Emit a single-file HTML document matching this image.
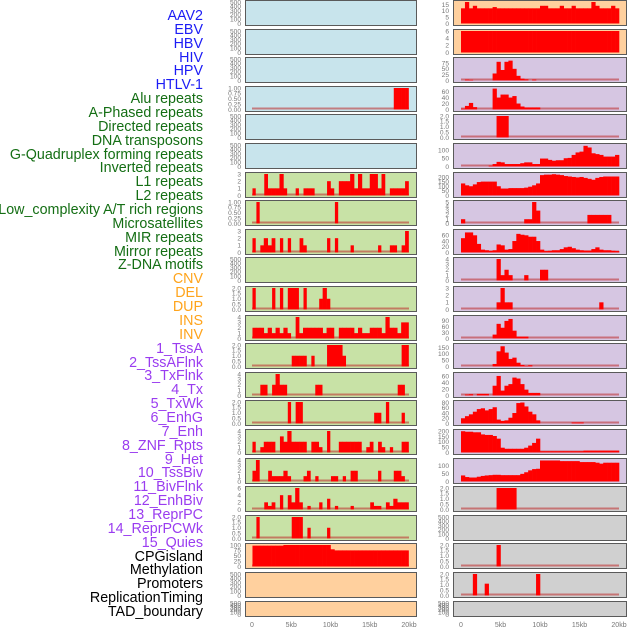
<!DOCTYPE html>
<html><head><meta charset="utf-8">
<style>
html,body{margin:0;padding:0;background:#fff;width:630px;height:630px;overflow:hidden;position:relative;font-family:"Liberation Sans",sans-serif;}
.lbl{position:absolute;right:427px;font-size:14.3px;line-height:14px;white-space:nowrap;text-align:right;}
svg{position:absolute;left:0;top:0;}
</style></head>
<body>
<div id="labels"></div>
<svg id="chart" width="630" height="630"></svg>
<script>
const trackNames = ["AAV2","EBV","HBV","HIV","HPV","HTLV-1","Alu repeats","A-Phased repeats","Directed repeats","DNA transposons","G-Quadruplex forming repeats","Inverted repeats","L1 repeats","L2 repeats","Low_complexity A/T rich regions","Microsatellites","MIR repeats","Mirror repeats","Z-DNA motifs","CNV","DEL","DUP","INS","INV","1_TssA","2_TssAFlnk","3_TxFlnk","4_Tx","5_TxWk","6_EnhG","7_Enh","8_ZNF_Rpts","9_Het","10_TssBiv","11_BivFlnk","12_EnhBiv","13_ReprPC","14_ReprPCWk","15_Quies","CPGisland","Methylation","Promoters","ReplicationTiming","TAD_boundary"];
const trackGroups = [6,13,5,15,5];
const groupColors = ["#1c1cf5","#146e14","#ffa41c","#9a3cf0","#000000"];

const xTicks = [0,5,10,15,20];
const xTickLabels = ["0","5kb","10kb","15kb","20kb"];

const leftBg = ["b","b","b","b","b","b","g","g","g","g","g","g","g","g","g","g","g","g","g","o","o","o"];
const rightBg = ["o","o","p","p","p","p","p","p","p","p","p","p","p","p","p","p","p","g2","g2","g2","g2","g2"];
const bgColors = {b:"#c8e4ec",g:"#c8e2a6",o:"#ffd09e",p:"#d6c6e2",g2:"#d0d0d0"};

const leftTicks = ["E","E","E","Q","E","E","3","Q","3","E","T","4","T","4","T","4","4","6","T","C","E","E"];
const rightTicks = ["R0","R1","R2","R3","T","R5","R6","5","R8","4","3","R11","R12","R13","R14","R15","R16","T","E","T","T","E"];
const tickSets = {
 E:[0,100,200,300,400,500], Q:[0,0.25,0.5,0.75,1], T:[0,0.5,1,1.5,2], "3":[0,1,2,3], "4":[0,1,2,3,4], "5":[0,1,2,3,4,5], "6":[0,2,4,6],
 C:[0,25,50,75,100], R0:[0,5,10,15], R1:[0,2,4,6], R2:[0,25,50,75], R3:[0,20,40,60], R5:[0,50,100], R6:[0,50,100,150,200],
 R8:[0,20,40,60], R11:[0,30,60,90], R12:[0,50,100,150], R13:[0,20,40,60], R14:[0,20,40,60,80], R15:[0,50,100,150,200], R16:[0,50,100]
};
const tickFmt = {Q:2,T:1};
const leftMax = [500,500,500,1,500,500,3,1,3,500,2,4,2,4,2,4,4,6,2,100,500,500];
const rightMax = [17,6,92,72,2,130,232,5,75,4,3,110,170,66,82,202,135,2,500,2,2,500];

const leftData = [
 null,null,null,
 {36:1,37:1,38:1,39:1},
 null,null,
 {0:1,3:3,4:1,5:1,6:1,7:3,8:1,11:1,13:1,14:1,15:1,19:2,20:1,22:2,23:2,24:2,25:3,26:1,27:3,28:1,29:1,30:3,31:3,32:1,33:3,35:1,36:1,37:1,38:1,39:2},
 {1:1,21:1},
 {0:2,2:1,3:2,4:1,5:2,7:2,9:2,12:2,13:1,19:2,21:2,25:1,32:1,35:1,36:1,38:1,39:3},
 null,
 {0:2,5:2,7:2,9:2,10:2,11:2,13:2,17:1,18:2,19:1},
 {0:2,1:2,2:2,3:1,4:2,5:1,6:2,7:1,8:2,9:1,11:4,12:1,13:2,14:2,15:2,16:2,17:2,18:1,19:2,20:2,22:2,23:2,24:2,25:2,26:1,27:2,28:1,29:1,30:2,31:2,32:2,33:1,34:4,35:2,36:2,37:1,38:3,39:3},
 {10:1,11:1,12:1,13:1,15:1,19:2,20:2,21:2,22:2,23:1,38:2,39:2},
 {2:2,3:2,5:2,6:4,7:2,8:2,16:2,17:2,37:2,38:2},
 {9:2,11:2,12:2,31:1,32:1,34:2,38:1},
 {0:2,2:1,3:2,4:2,5:2,7:3,8:2,9:4,10:2,11:2,12:2,13:2,15:2,16:2,17:1,19:4,22:2,23:2,24:2,25:2,26:2,27:2,29:1,30:2,32:2,33:1,35:1,38:2,39:2},
 {0:2,1:4,4:2,5:1,6:1,7:1,8:2,9:1,13:1,14:2,16:1,20:1,21:1,23:1,25:2,26:2,32:2,36:2,37:2,38:1},
 {3:2,4:1,5:2,7:4,9:4,10:2,11:6,12:2,14:1,17:2,19:3,21:1,25:1,30:2,31:1,32:1,34:2,35:1,36:3,37:2,38:2,39:2},
 {1:2,10:2,11:2,12:2,14:1,19:1},
 {0:97,1:97,2:97,3:97,4:97,5:97,6:97,7:97,8:100,9:100,10:100,11:100,12:100,13:100,14:100,15:100,16:100,17:100,18:100,19:100,20:80,21:75,22:75,23:75,24:75,25:75,26:75,27:75,28:75,29:75,30:75,31:75,32:75,33:75,34:75,35:75,36:75,37:75,38:75,39:75},
 null,null
];
const rightData = [
 {0:12,1:17,2:12,3:14,4:12,5:12,6:12,7:12,8:13,9:12,10:12,11:12,12:12,13:12,14:12,15:12,16:12,17:12,18:12,19:12,20:14,21:14,22:12,23:12,24:12,25:14,26:12,27:12,28:14,29:12,30:12,31:12,32:12,33:17,34:14,35:12,36:12,37:12,38:14,39:12},
 {0:6,1:6,2:6,3:6,4:6,5:6,6:6,7:6,8:6,9:6,10:6,11:6,12:6,13:6,14:6,15:6,16:6,17:6,18:6,19:6,20:6,21:6,22:6,23:6,24:6,25:6,26:6,27:6,28:6,29:6,30:6,31:6,32:6,33:6,34:6,35:6,36:6,37:6,38:6,39:6},
 {1:4,2:3,8:30,9:80,10:45,11:80,12:85,13:50,14:20,15:8,16:5,18:4},
 {0:3,1:12,2:22,3:8,8:70,9:40,10:50,11:50,12:40,13:45,14:20,15:10,16:7,17:7,18:7,19:7},
 {9:2,10:2,11:2},
 {7:5,8:15,9:28,10:25,11:15,12:15,13:15,14:15,15:20,16:25,17:25,18:15,19:15,20:48,21:48,22:40,23:35,24:38,25:38,26:50,27:52,28:70,29:85,30:90,31:125,32:115,33:80,34:75,35:70,36:60,37:60,38:60,39:70},
 {0:130,1:110,2:100,3:120,4:145,5:150,6:150,7:150,8:150,9:100,10:75,11:75,12:80,13:80,14:80,15:80,16:85,17:95,18:110,19:130,20:220,21:225,22:225,23:230,24:225,25:220,26:210,27:205,28:200,29:195,30:200,31:190,32:180,33:170,34:190,35:200,36:205,37:205,38:205,39:205},
 {0:1,16:1,17:1,18:5,19:3,32:2,33:2,34:2,35:2,36:2,37:2},
 {0:50,1:70,2:70,3:60,4:30,5:10,6:8,7:6,8:8,9:28,10:25,11:10,12:12,13:40,14:65,15:62,16:60,17:55,18:55,19:40,20:10,21:5,22:6,23:8,24:8,25:12,26:18,27:20,28:15,29:10,30:8,31:7,32:7,33:12,34:18,35:10,36:8,37:8,38:6,39:5},
 {9:4,10:1,11:2,12:1,16:1,20:2,21:2},
 {9:1,10:3,11:1,12:1,35:1},
 {8:20,9:75,10:55,11:90,12:100,13:40,14:10,15:10,16:10},
 {8:20,9:120,10:160,11:110,12:60,13:70,14:30,15:12,16:5,17:10},
 {1:3,2:4,4:5,5:5,6:5,8:30,9:60,10:15,11:30,12:35,13:55,14:52,15:35,16:18,17:8,18:8,19:8},
 {0:20,1:28,2:35,3:45,4:55,5:58,6:50,7:55,8:62,9:15,10:10,11:12,12:22,13:40,14:78,15:80,16:65,17:45,18:35,19:12,28:4,29:4,30:4},
 {0:200,1:195,2:195,3:190,4:190,5:170,6:165,7:165,8:155,9:130,10:45,11:35,12:35,13:35,14:35,15:35,16:45,17:65,18:90,19:130,20:12,21:12,22:12,23:12,24:12,25:12,26:12,27:12,28:12,29:12,30:12,31:18,32:18,33:18,34:18,35:18,36:18,37:18,38:18,39:18},
 {0:38,1:28,2:25,3:25,4:30,5:35,6:38,7:40,8:42,9:42,10:40,11:40,12:40,13:40,14:40,15:48,16:58,17:70,18:78,19:80,20:132,21:132,22:132,23:132,24:132,25:128,26:128,27:128,28:128,29:128,30:122,31:122,32:122,33:122,34:118,35:112,36:118,37:118,38:118,39:118},
 {9:2,10:2,11:2,12:2,13:2},
 null,
 {9:2},
 {3:2,6:1.1,19:2},
 null
];

const NS = "http://www.w3.org/2000/svg";
const svg = document.getElementById("chart");
function mk(tag, attrs, parent){const e=document.createElementNS(NS,tag);for(const k in attrs)e.setAttribute(k,attrs[k]);(parent||svg).appendChild(e);return e;}

const labWrap = document.getElementById("labels");
let gi=0, cnt=0;
trackNames.forEach((n,i)=>{
  while(cnt>=trackGroups[gi]){cnt-=trackGroups[gi];gi++;}
  cnt++;
  const d=document.createElement("div");
  d.className="lbl";
  d.textContent=n;
  d.style.top=(15+i*13.86-6)+"px";
  d.style.color=groupColors[gi];
  
  
  labWrap.appendChild(d);
});

const cols = [
  {x0:245,x1:416,k0:252,k20:409,tickX:241,bg:leftBg,ticks:leftTicks,max:leftMax,data:leftData,side:"left",bw:0.38},
  {x0:453,x1:626,k0:461,k20:619,tickX:449,bg:rightBg,ticks:rightTicks,max:rightMax,data:rightData,side:"right",bw:0.5}
];
const NROWS=22;
cols.forEach(c=>{
  const xs = kb => c.k0 + (c.k20-c.k0)*kb/20;
  for(let r=0;r<NROWS;r++){
    const top = r===NROWS-1 ? 601 : Math.round(r*28.6);
    const h = r===NROWS-1 ? 15 : 25;
    const g = mk("g",{});
    
    
    const rect = mk("rect",{x:c.x0+0.5,y:top+0.5,width:c.x1-c.x0,height:h,fill:bgColors[c.bg[r]],stroke:"#5a5a5a","stroke-width":1},g);
    
    
    const base = top+h-1.5, ytop = top+2;
    const ymax = c.max[r];
    const ys = v => base - (base-ytop)*v/ymax;
    const ts = tickSets[c.ticks[r]];
    const dec = tickFmt[c.ticks[r]];
    ts.forEach(t=>{
      const tx = mk("text",{x:c.tickX,y:(ys(Math.min(t,ymax))+2.3).toFixed(1),"font-size":"6.6","text-anchor":"end",fill:"#777"},g);
      tx.textContent = dec!==undefined ? t.toFixed(dec) : String(t);
      
      
    });
    const d = c.data[r];
    if(d){
      const bl = mk("line",{x1:xs(0),x2:xs(20),y1:base-1,y2:base-1,stroke:"rgba(190,40,40,0.55)","stroke-width":2},g);
      
      
      const pad = (0.5-c.bw)/2;
      Object.keys(d).forEach(k=>{
        const b=+k, v=d[k];
        const y=ys(v);
        const lk = (d[b-1]!==undefined) ? b*0.5 : b*0.5+pad;
        const rk = (d[b+1]!==undefined) ? (b+1)*0.5 : (b+1)*0.5-pad;
        const bar = mk("rect",{x:xs(lk).toFixed(2),y:y.toFixed(2),width:(xs(rk)-xs(lk)+0.3).toFixed(2),height:(base-y).toFixed(2),fill:"#ff0000"},g);
        
        
      });
    }
  }
  xTicks.forEach((t,i)=>{
    const tx = mk("text",{x:xs(t),y:627,"font-size":"7","text-anchor":"middle",fill:"#777"});
    tx.textContent = xTickLabels[i];
    
    
  });
});
</script>
</body></html>
